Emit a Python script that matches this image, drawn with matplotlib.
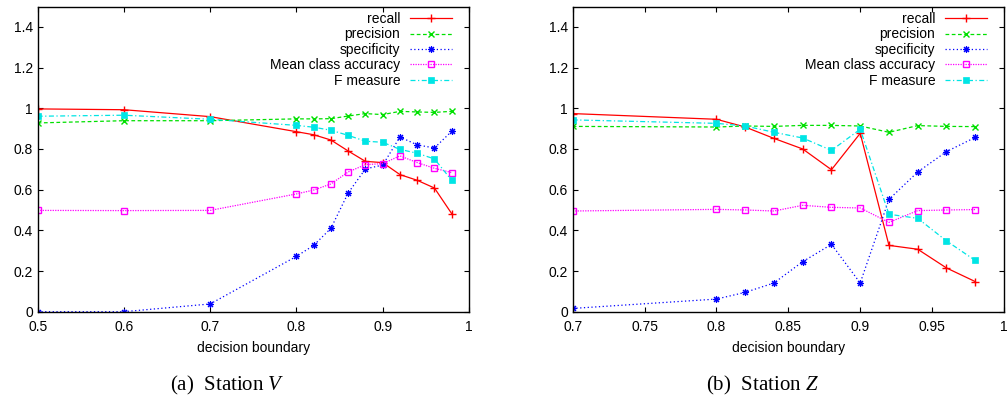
import matplotlib
matplotlib.use("Agg")
import matplotlib.pyplot as plt

plt.rcParams['font.family'] = ['Liberation Sans', 'DejaVu Sans']
plt.rcParams['mathtext.fontset'] = 'custom'
plt.rcParams['mathtext.rm'] = 'Liberation Serif'
plt.rcParams['mathtext.it'] = 'Liberation Serif:italic'

# ----- Station V -----
v_boundary = [0.5, 0.6, 0.7, 0.8, 0.82, 0.84, 0.86, 0.88, 0.9, 0.92, 0.94, 0.96, 0.98]
v_recall = [0.997, 0.993, 0.959, 0.885, 0.870, 0.844, 0.790, 0.739, 0.733, 0.674, 0.646, 0.608, 0.482]
v_precision = [0.928, 0.939, 0.939, 0.948, 0.948, 0.949, 0.962, 0.974, 0.969, 0.985, 0.982, 0.980, 0.985]
v_specificity = [0.0, 0.0, 0.038, 0.272, 0.326, 0.410, 0.584, 0.702, 0.721, 0.859, 0.820, 0.805, 0.887]
v_mca = [0.498, 0.497, 0.498, 0.579, 0.598, 0.628, 0.687, 0.723, 0.728, 0.766, 0.733, 0.705, 0.684]
v_fmeasure = [0.961, 0.966, 0.946, 0.916, 0.907, 0.892, 0.867, 0.838, 0.833, 0.798, 0.779, 0.751, 0.646]

# ----- Station Z -----
z_boundary = [0.7, 0.8, 0.82, 0.84, 0.86, 0.88, 0.9, 0.92, 0.94, 0.96, 0.98]
z_recall = [0.974, 0.946, 0.908, 0.852, 0.800, 0.698, 0.877, 0.326, 0.307, 0.215, 0.148]
z_precision = [0.911, 0.908, 0.913, 0.911, 0.916, 0.916, 0.913, 0.882, 0.915, 0.911, 0.910]
z_specificity = [0.016, 0.062, 0.095, 0.141, 0.246, 0.331, 0.141, 0.552, 0.687, 0.787, 0.857]
z_mca = [0.495, 0.503, 0.500, 0.495, 0.523, 0.513, 0.510, 0.439, 0.497, 0.500, 0.502]
z_fmeasure = [0.943, 0.926, 0.913, 0.882, 0.854, 0.793, 0.897, 0.479, 0.459, 0.348, 0.252]

series_names = ["recall", "precision", "specificity", "Mean class accuracy", "F measure"]

y_ticks = [0, 0.2, 0.4, 0.6, 0.8, 1.0, 1.2, 1.4]
y_ticklabels = ["0", "0.2", "0.4", "0.6", "0.8", "1", "1.2", "1.4"]
v_xticks = [0.5, 0.6, 0.7, 0.8, 0.9, 1.0]
v_xticklabels = ["0.5", "0.6", "0.7", "0.8", "0.9", "1"]
z_xticks = [0.7, 0.75, 0.8, 0.85, 0.9, 0.95, 1.0]
z_xticklabels = ["0.7", "0.75", "0.8", "0.85", "0.9", "0.95", "1"]

styles = [
    dict(color="#ff0000", linestyle="-", marker="+", ms=6, mew=1.0),
    dict(color="#00e000", linestyle=(0, (3, 2)), marker="x", ms=4, mew=1.0),
    dict(color="#0000ff", linestyle=(0, (1, 2)), marker=(8, 2, 0), ms=5, mew=0.8),
    dict(color="#ff00ff", linestyle=(0, (1, 1)), marker="s", ms=5, mew=1.0, mfc="none"),
    dict(color="#00e5e5", linestyle=(0, (4, 2, 1, 2)), marker="s", ms=5, mew=0.5),
]


def draw_panel(ax, x, series, xticks, xticklabels, xlim, caption):
    for name, y, st in zip(series_names, series, styles):
        ax.plot(x, y, lw=0.9, label=name, **st)
    ax.set_xlim(*xlim)
    ax.set_ylim(0, 1.5)
    ax.set_xticks(xticks)
    ax.set_xticklabels(xticklabels)
    ax.set_yticks(y_ticks)
    ax.set_yticklabels(y_ticklabels)
    ax.tick_params(direction="in", length=3.5, width=0.8, top=True, right=True,
                   labelsize=10)
    ax.tick_params(axis="x", pad=6)
    ax.tick_params(axis="y", pad=3.5)
    for s in ax.spines.values():
        s.set_linewidth(1.0)
    ax.set_xlabel("decision boundary", fontsize=10, labelpad=5)
    ax.legend(loc="upper right", bbox_to_anchor=(0.96, 0.982), frameon=False,
              markerfirst=False, fontsize=10, handlelength=3.0, handletextpad=0.7,
              labelspacing=0.1, borderpad=0, borderaxespad=0)
    pos = ax.get_position()
    fig.text(pos.x0 + pos.width / 2 - 0.026, 0.043, caption, ha="center", va="center",
             fontsize=15, family="Liberation Serif")


fig = plt.figure(figsize=(10.07, 4.03), dpi=100)
ax1 = fig.add_axes([0.0374, 0.2266, 0.4283, 0.757])
ax2 = fig.add_axes([0.5687, 0.2266, 0.4283, 0.757])

draw_panel(ax1, v_boundary, [v_recall, v_precision, v_specificity, v_mca, v_fmeasure],
           v_xticks, v_xticklabels, (0.5, 1.0), r"(a)  Station $\mathit{V}$")
draw_panel(ax2, z_boundary, [z_recall, z_precision, z_specificity, z_mca, z_fmeasure],
           z_xticks, z_xticklabels, (0.7, 1.0), r"(b)  Station $\mathit{Z}$")

fig.savefig("out.png", dpi=100)
